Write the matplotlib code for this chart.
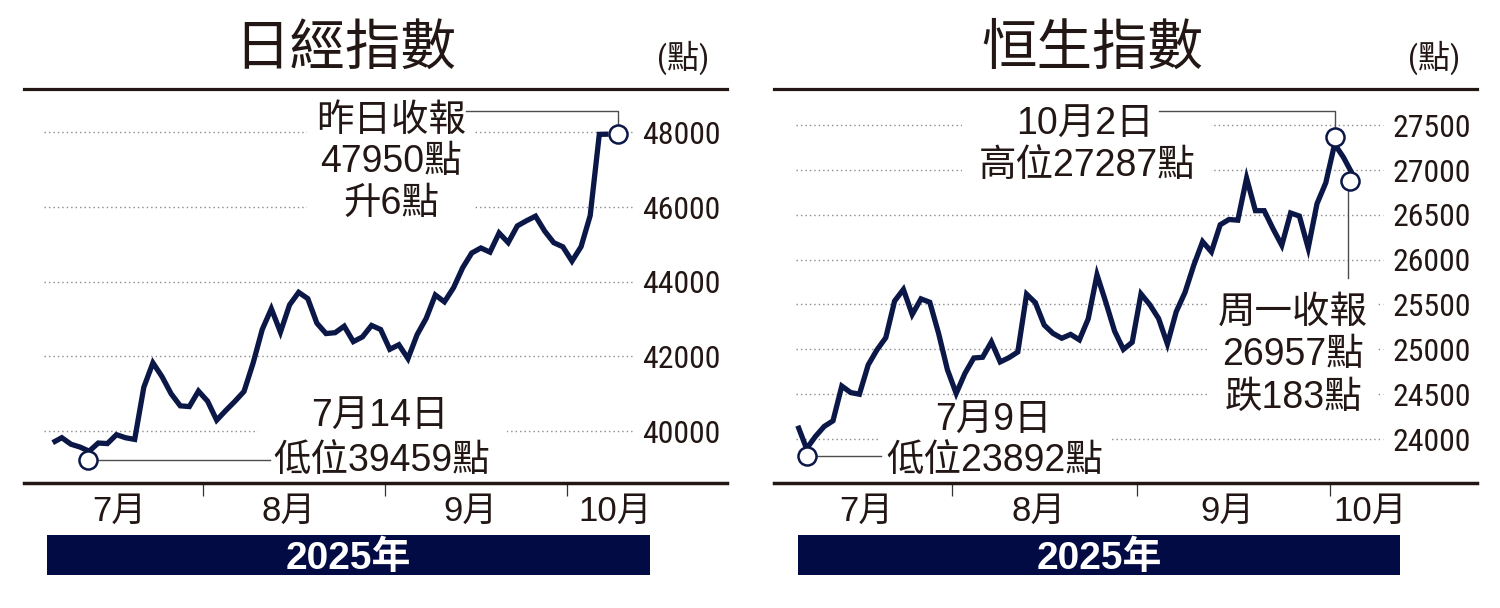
import matplotlib
matplotlib.use("Agg")
import matplotlib.pyplot as plt
from matplotlib import font_manager as fm
from matplotlib.patches import Rectangle
from matplotlib.lines import Line2D
import matplotlib.transforms as mtrans

# ---------------- data ----------------
nikkei_dates = ["07-08", "07-09", "07-10", "07-11", "07-14", "07-15", "07-16", "07-17", "07-18",
                "07-22", "07-23", "07-24", "07-25", "07-28", "07-29", "07-30", "07-31",
                "08-01", "08-04", "08-05", "08-06", "08-07", "08-08", "08-12", "08-13", "08-14",
                "08-15", "08-18", "08-19", "08-20", "08-21", "08-22", "08-25", "08-26", "08-27",
                "08-28", "08-29",
                "09-01", "09-02", "09-03", "09-04", "09-05", "09-08", "09-09", "09-10", "09-11",
                "09-12", "09-16", "09-17", "09-18", "09-19", "09-22", "09-24", "09-25", "09-26",
                "09-29", "09-30",
                "10-01", "10-02", "10-03", "10-06", "10-07"]
nikkei_values = [39688, 39821, 39646, 39570, 39459, 39678, 39663, 39901, 39819,
                 39775, 41171, 41826, 41456, 40998, 40674, 40654, 41069,
                 40799, 40290, 40549, 40794, 41059, 41820, 42718, 43274, 42649,
                 43378, 43714, 43546, 42888, 42610, 42633, 42807, 42394, 42520,
                 42828, 42718,
                 42188, 42310, 41938, 42580, 43018, 43643, 43459, 43837, 44372,
                 44768, 44902, 44790, 45303, 45045, 45493, 45630, 45754, 45355,
                 45044, 44933,
                 44550, 44937, 45769, 47945, 47950]

hsi_dates = ["07-08", "07-09", "07-10", "07-11", "07-14", "07-15", "07-16", "07-17", "07-18",
             "07-21", "07-22", "07-23", "07-24", "07-25", "07-28", "07-29", "07-30", "07-31",
             "08-01", "08-04", "08-05", "08-06", "08-07", "08-08", "08-11", "08-12", "08-13",
             "08-14", "08-15", "08-18", "08-19", "08-20", "08-21", "08-22", "08-25", "08-26",
             "08-27", "08-28", "08-29",
             "09-01", "09-02", "09-03", "09-04", "09-05", "09-08", "09-09", "09-10", "09-11",
             "09-12", "09-15", "09-16", "09-17", "09-18", "09-19", "09-22", "09-23", "09-24",
             "09-25", "09-26", "09-29", "09-30",
             "10-02", "10-03", "10-06"]
hsi_values = [24148, 23892, 24028, 24140, 24203, 24590, 24518, 24499, 24826,
              24994, 25130, 25538, 25667, 25388, 25562, 25524, 25177, 24773,
              24508, 24733, 24903, 24911, 25082, 24859, 24907, 24970, 25614,
              25519, 25270, 25177, 25123, 25166, 25105, 25339, 25830, 25525,
              25202, 24999, 25078,
              25617, 25497, 25343, 25059, 25418, 25634, 25938, 26200, 26086,
              26388, 26447, 26439, 26908, 26545, 26545, 26344, 26159, 26519,
              26485, 26128, 26623, 26856,
              27287, 27141, 26958]

nikkei_yticks = [40000, 42000, 44000, 46000, 48000]
hsi_yticks = [24000, 24500, 25000, 25500, 26000, 26500, 27000, 27500]
month_names = {7: "7月", 8: "8月", 9: "9月", 10: "10月"}
titles = ["日經指數", "恒生指數"]
unit_label = "(點)"
year_label = "2025年"
nikkei_note_close = ["昨日收報", "47950點", "升6點"]
nikkei_note_low = ["7月14日", "低位39459點"]
hsi_note_high = ["10月2日", "高位27287點"]
hsi_note_close = ["周一收報", "26957點", "跌183點"]
hsi_note_low = ["7月9日", "低位23892點"]

# ---------------- style ----------------
W, H = 1500, 608
CJK = "Noto Sans CJK TC"
NAVY = "#0b1747"
BAR = "#020b43"
INK = "#221714"
GRID = "#8c8c8c"
LEAD = "#4d4d4d"

names = {f.name for f in fm.fontManager.ttflist}
narrow_fam, narrow_adv = ["Liberation Sans", CJK], 0.556
for n, adv in [("Roboto Condensed", 0.50), ("Liberation Sans Narrow", 0.456),
               ("Open Sans Condensed", 0.50)]:
    if n in names:
        narrow_fam, narrow_adv = [n, CJK], adv
        break
TICK_SIZE = 15.3 / narrow_adv * 0.72 * 1.04
LATIN = ["Liberation Sans", CJK]

fig = plt.figure(figsize=(W / 100, H / 100), dpi=100)
fig.patch.set_facecolor("white")


def ptext(px, pyc, s, size, family, ha="center", color=INK, weight="normal"):
    """Text whose ink centre sits at pixel (px, pyc), origin top-left."""
    base = pyc + 0.37 * size * 100 / 72
    return fig.text(px / W, 1 - base / H, s, fontsize=size, family=family, ha=ha,
                    va="baseline", color=color, fontweight=weight)


def frect(x0, y0, x1, y1, **kw):
    return Rectangle((x0 / W, 1 - y1 / H), (x1 - x0) / W, (y1 - y0) / H,
                     transform=fig.transFigure, **kw)


panels = [
    dict(dates=nikkei_dates, values=nikkei_values, yticks=nikkei_yticks, title=titles[0],
         box=(24, 89, 727, 482.5), x0=52.7, dx=9.11, yref=((40000, 431.0), (48000, 132.3)),
         label_x=642, grid=(44, 632), title_x=345, unit_x=683, bar=(47, 650), last_off=11,
         covers=[(307, 96, 473, 222), (258, 394, 507, 478)],
         notes=[(nikkei_note_close, [(391, 117), (391, 158), (391, 200)]),
                (nikkei_note_low, [(380, 413), (382, 457)])]),
    dict(dates=hsi_dates, values=hsi_values, yticks=hsi_yticks, title=titles[1],
         box=(774, 89, 1477, 482.5), x0=797.8, dx=8.8, yref=((24000, 439.0), (27500, 125.0)),
         label_x=1393, grid=(796, 1383), title_x=1092, unit_x=1434, bar=(798, 1400), last_off=3,
         covers=[(962, 102, 1211, 182), (1209, 288, 1377, 412), (881, 398, 1112, 476)],
         notes=[(hsi_note_high, [(1085, 121), (1087, 162)]),
                (hsi_note_close, [(1293, 309), (1293, 351), (1293, 394)]),
                (hsi_note_low, [(993, 417), (995, 457)])]),
]

NOTE_SIZE = 27
MONTH_SIZE = 25
R_CIRC = 10

for k, p in enumerate(panels):
    L, T, R, B = p["box"]
    x0, dx = p["x0"], p["dx"]
    (v1, p1), (v2, p2) = p["yref"]
    slope = (p2 - p1) / (v2 - v1)
    ax = fig.add_axes([L / W, 1 - B / H, (R - L) / W, (B - T) / H])
    ax.set_xlim((L - x0) / dx, (R - x0) / dx)
    ax.set_ylim(v1 + (B - p1) / slope, v1 + (T - p1) / slope)
    ax.set_facecolor("none")
    for s in ("left", "right"):
        ax.spines[s].set_visible(False)
    ax.spines["top"].set_linewidth(2.3)
    ax.spines["bottom"].set_linewidth(2.5)
    for s in ("top", "bottom"):
        ax.spines[s].set_color(INK)
        ax.spines[s].set_zorder(10)
    ax.set_yticks([])

    def xpx(i):
        return x0 + dx * i

    def ypx(v):
        return p1 + (v - v1) * slope

    vals = p["values"]
    n = len(vals)
    months = [int(d[:2]) for d in p["dates"]]
    bounds = [i - 0.5 for i in range(1, n) if months[i] != months[i - 1]]
    ax.set_xticks(bounds, labels=[""] * len(bounds))
    ax.tick_params(axis="x", direction="out", length=9.5, width=0.9, color="#333333",
                   bottom=True, top=False)

    # dotted horizontal guides
    ax.hlines(p["yticks"], (p["grid"][0] - x0) / dx, (p["grid"][1] - x0) / dx,
              colors=GRID, linewidth=1.0, linestyles=(0, (1, 2.2)), zorder=1)
    # y labels
    for v in p["yticks"]:
        ptext(p["label_x"], ypx(v), f"{v}", TICK_SIZE, narrow_fam, ha="left")

    # white covers behind the notes
    for (a, b, c, d) in p["covers"]:
        ax.add_patch(frect(a, b, c, d, facecolor="white", edgecolor="none", zorder=2,
                           clip_on=False))

    ax.plot(range(n), vals, color=NAVY, lw=3.8, solid_joinstyle="miter",
            solid_capstyle="butt", zorder=4)

    # month labels
    uniq = sorted(set(months))
    for j, m in enumerate(uniq):
        idx = [i for i in range(n) if months[i] == m]
        if j < len(uniq) - 1:
            ptext(xpx(sum(idx) / len(idx)) - 6, 508, month_names[m], MONTH_SIZE, LATIN)
        else:
            ptext(xpx(bounds[-1]) + p["last_off"], 508, month_names[m], MONTH_SIZE, LATIN,
                  ha="left")

    # title, unit, year bar
    ptext(p["title_x"], 44.5, p["title"], 40, [CJK])
    ptext(p["unit_x"], 56, unit_label, 23, narrow_fam)
    bx0, bx1 = p["bar"]
    fig.add_artist(frect(bx0, 535, bx1, 575, facecolor=BAR, edgecolor="none"))
    ptext((bx0 + bx1) / 2, 555, year_label, 28, LATIN, color="white", weight="bold")

    # notes text
    for lines, pos in p["notes"]:
        for s, (px, py) in zip(lines, pos):
            ptext(px, py, s, NOTE_SIZE, LATIN)

    # markers
    def circle(i, offx, offy):
        tr = mtrans.offset_copy(ax.transData, fig=fig, x=offx * 0.72, y=-offy * 0.72,
                                units="points")
        ax.plot([i], [vals[i]], marker="o", ms=13, mfc="white", mec=NAVY, mew=1.8,
                transform=tr, zorder=6, clip_on=False)
        return xpx(i) + offx, ypx(vals[i]) + offy

    def lead(pts):
        xs = [q[0] / W for q in pts]
        ys = [1 - q[1] / H for q in pts]
        ax.add_line(Line2D(xs, ys, transform=fig.transFigure, color=LEAD, lw=1.0,
                           zorder=3.5, clip_on=False))

    i_low = vals.index(min(vals))
    if k == 0:
        cx, cy = circle(n - 1, 10, 0)
        lead([(466, 111), (cx - 0.5, 111), (cx - 0.5, cy - R_CIRC)])
        cx, cy = circle(i_low, -1, 9)
        lead([(cx + R_CIRC, cy), (270, cy)])
    else:
        i_high = vals.index(max(vals))
        cx, cy = circle(i_high, 0, -7)
        lead([(1159, 111), (cx, 111), (cx, cy - R_CIRC)])
        cx, cy = circle(n - 1, -2, 7)
        lead([(cx - 2, cy + R_CIRC), (cx - 2, 278)])
        cx, cy = circle(i_low, 0, 7)
        lead([(cx + R_CIRC, cy), (881, cy)])

fig.savefig("out.png", dpi=100, facecolor="white")
